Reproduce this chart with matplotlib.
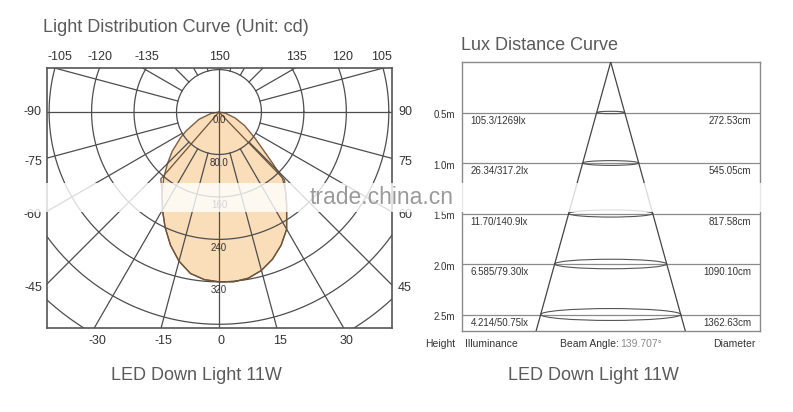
import numpy as np
import matplotlib
matplotlib.use("Agg")
import matplotlib.pyplot as plt
from matplotlib.patches import Ellipse, Rectangle

plt.rcParams['font.family'] = ['Liberation Sans', 'DejaVu Sans']

# ---------------- data ----------------
# Light distribution curve (angle from nadir in degrees, intensity in cd)
curve1_angles = [-90, -80, -70, -60, -56, -50, -45, -40, -35, -30, -25, -20, -15, -10, -5,
                 0, 5, 10, 15, 20, 25, 30, 36, 40, 44, 47, 54, 62, 70, 80, 90]
curve1_cd = [0, 15, 40, 72, 88, 115, 137, 162, 187, 213, 240, 267, 291, 309, 317,
             320, 321, 318, 309, 295, 277, 255, 217, 195, 172, 132, 84, 55, 32, 12, 0]

curve2_angles = [-41.5, -41, -35, -30, -25, -20, -15, -10, -5, 0, 5, 10, 15, 20, 25, 30, 36, 40, 44, 44.5]
curve2_cd = [0, 167, 187, 213, 240, 267, 291, 309, 317, 320, 321, 318, 309, 295, 277, 255, 217, 195, 178, 0]

circle_values = [80, 160, 240, 320, 400, 480, 560]
circle_labels = ["0.0", "80.0", "160", "240", "320"]
circle_label_values = [0, 80, 160, 240, 320]
ray_angles = list(range(0, 360, 15))

top_tick_labels = ["-105", "-120", "-135", "150", "135", "120", "105"]
left_tick_labels = ["-90", "-75", "-60", "-45"]
right_tick_labels = ["90", "75", "60", "45"]
bottom_tick_labels = ["-30", "-15", "0", "15", "30"]

# Lux distance curve
heights_m = [0.5, 1.0, 1.5, 2.0, 2.5]
height_labels = ["0.5m", "1.0m", "1.5m", "2.0m", "2.5m"]
illuminance_labels = ["105.3/1269lx", "26.34/317.2lx", "11.70/140.9lx", "6.585/79.30lx", "4.214/50.75lx"]
diameter_labels = ["272.53cm", "545.05cm", "817.58cm", "1090.10cm", "1362.63cm"]
beam_angle_text = "139.707°"

# ---------------- layout ----------------
W, H = 793, 412
fig = plt.figure(figsize=(W / 100, H / 100), dpi=100)
fig.patch.set_facecolor('white')

def fx(x):
    return x / W

def fy(y):
    return 1 - y / H

GRID = '#4d4d4d'
TXT = '#333333'
TITLE = '#5a5a5a'

# ---------- left panel ----------
L0, R0, T0, B0 = 47, 392, 68, 328
ax1 = fig.add_axes([fx(L0), fy(B0), (R0 - L0) / W, (B0 - T0) / H])
ax1.set_xlim(-324, 326)
ax1.set_ylim(-407, 83)
ax1.set_xticks([])
ax1.set_yticks([])
for s in ax1.spines.values():
    s.set_color('#555555')
    s.set_linewidth(1.2)

th1 = np.radians(curve1_angles)
x1 = np.array(curve1_cd) * np.sin(th1)
y1 = -np.array(curve1_cd) * np.cos(th1)
ax1.fill(x1, y1, facecolor='#fadeb9', edgecolor='#7d5f40', lw=1.0, zorder=1)

th2 = np.radians(curve2_angles)
x2 = np.array(curve2_cd) * np.sin(th2)
y2 = -np.array(curve2_cd) * np.cos(th2)
ax1.plot(x2, y2, color='#6e5338', lw=0.9, zorder=3)

t = np.linspace(0, 2 * np.pi, 400)
for r in circle_values:
    ax1.plot(r * np.cos(t), r * np.sin(t), color=GRID, lw=0.9, zorder=2)
for a in ray_angles:
    ar = np.radians(a)
    r0 = 0 if a % 90 == 0 else circle_values[0]
    ax1.plot([r0 * np.sin(ar), 1000 * np.sin(ar)], [-r0 * np.cos(ar), -1000 * np.cos(ar)],
             color=GRID, lw=0.9, zorder=2)

for lab, v in zip(circle_labels, circle_label_values):
    ax1.annotate(lab, xy=(0, -v), xytext=(0, -6 if v == 0 else -6), textcoords='offset points',
                 ha='center', va='center', fontsize=7, color=TXT, zorder=4)

top_x = [60, 100, 147, 219, 296, 343, 382]
for lab, x in zip(top_tick_labels, top_x):
    fig.text(fx(x), fy(57), lab, ha='center', va='center', fontsize=9, color=TXT)
side_y = [112, 162, 215, 288]
for lab, y in zip(left_tick_labels, side_y):
    fig.text(fx(42), fy(y), lab, ha='right', va='center', fontsize=9, color=TXT)
for lab, y in zip(right_tick_labels, side_y):
    fig.text(fx(398), fy(y), lab, ha='left', va='center', fontsize=9, color=TXT)
bottom_x = [97, 163, 221, 280, 346]
for lab, x in zip(bottom_tick_labels, bottom_x):
    fig.text(fx(x), fy(341), lab, ha='center', va='center', fontsize=9, color=TXT)

fig.text(fx(43), fy(28), "Light Distribution Curve (Unit: cd)", ha='left', va='center',
         fontsize=13, color=TITLE)
fig.text(fx(196), fy(375), "LED Down Light 11W", ha='center', va='center',
         fontsize=13, color=TITLE)

# ---------- right panel ----------
L1, R1, T1, B1 = 462, 760, 62, 331
px_per_m = 101.0
ax2 = fig.add_axes([fx(L1), fy(B1), (R1 - L1) / W, (B1 - T1) / H])
apex_x = 610.7
ax2.set_xlim((L1 - apex_x) / px_per_m, (R1 - apex_x) / px_per_m)
ax2.set_ylim((B1 - T1) / px_per_m, 0)
ax2.set_xticks([])
ax2.set_yticks([])
for s in ax2.spines.values():
    s.set_color('#8a8a8a')
    s.set_linewidth(1.0)

cone_half = np.tan(np.radians(15.5))
for h in heights_m:
    ax2.axhline(h, color='#8a8a8a', lw=0.9, zorder=1)
deep = 5.0
ax2.plot([0, -cone_half * deep], [0, deep], color='#444444', lw=0.9, zorder=3)
ax2.plot([0, cone_half * deep], [0, deep], color='#444444', lw=0.9, zorder=3)
for h in heights_m:
    w = 2 * cone_half * h
    ax2.add_patch(Ellipse((0, h), w, 0.085 * w, fill=False, edgecolor='#555555', lw=0.8, zorder=2))

for h, hl, il, dl in zip(heights_m, height_labels, illuminance_labels, diameter_labels):
    ax2.annotate(hl, xy=(0, h), xycoords=('axes fraction', 'data'), xytext=(-5, -2),
                 textcoords='offset points', ha='right', va='center', fontsize=7, color=TXT)
    ax2.annotate(il, xy=(0, h), xycoords=('axes fraction', 'data'), xytext=(6, -6),
                 textcoords='offset points', ha='left', va='center', fontsize=7, color=TXT)
    ax2.annotate(dl, xy=(1, h), xycoords=('axes fraction', 'data'), xytext=(-6.5, -6),
                 textcoords='offset points', ha='right', va='center', fontsize=7, color=TXT)

fig.text(fx(425), fy(344), "Height", ha='left', va='center', fontsize=7.5, color=TXT)
fig.text(fx(465), fy(344), "Illuminance", ha='left', va='center', fontsize=7.5, color=TXT)
bt = fig.text(fx(560), fy(344), "Beam Angle:", ha='left', va='center', fontsize=7.5, color=TXT)
fig.canvas.draw()
bb = bt.get_window_extent()
fig.text(bb.x1 / W + 1 / W, fy(344), beam_angle_text, ha='left', va='center', fontsize=7.5, color='#8a8a8a')
fig.text(fx(756), fy(344), "Diameter", ha='right', va='center', fontsize=7.5, color=TXT)

fig.text(fx(461), fy(46), "Lux Distance Curve", ha='left', va='center', fontsize=13, color=TITLE)
fig.text(fx(593), fy(375), "LED Down Light 11W", ha='center', va='center', fontsize=13, color=TITLE)

# ---------- watermark band ----------
fig.patches.append(Rectangle((fx(18), fy(212)), (790 - 18) / W, 29 / H, transform=fig.transFigure,
                             facecolor='white', edgecolor='none', alpha=0.8, zorder=5))
fig.text(fx(310), fy(197), "trade.china.cn", ha='left', va='center', fontsize=16.5,
         color='#9a9a9a', zorder=6)

fig.savefig("out.png", dpi=100, facecolor='white')
